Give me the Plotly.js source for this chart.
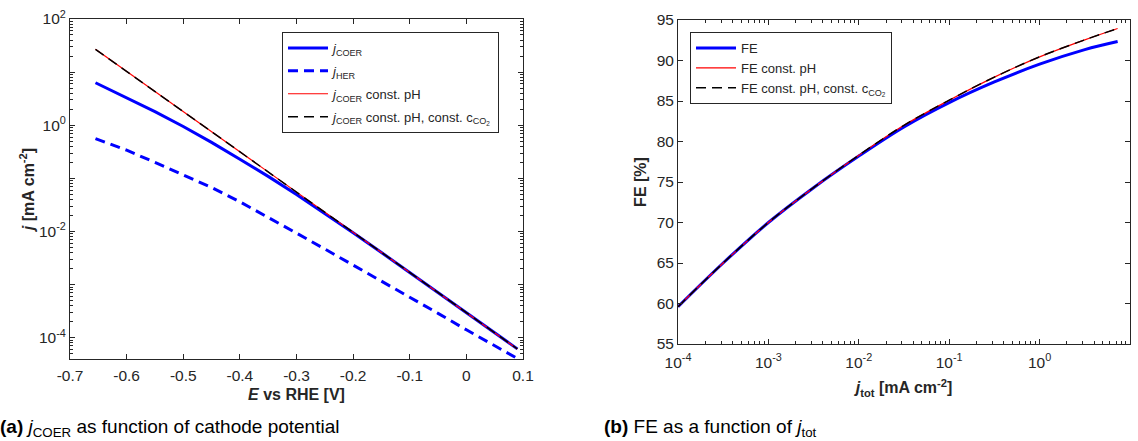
<!DOCTYPE html>
<html>
<head>
<meta charset="utf-8">
<script src="https://cdn.plot.ly/plotly-3.0.1.min.js"></script>
<style>html,body{margin:0;padding:0;background:#fff;}#chart{width:1138px;height:441px;}</style>
</head>
<body>
<div id="chart"></div>
<script>
// ---- Panel (a): current density vs potential ----
const E = [-0.655, -0.6, -0.55, -0.5, -0.45, -0.4, -0.35, -0.3, -0.25, -0.2, -0.15, -0.1, -0.05, 0, 0.05, 0.09];
const jCOER = [6.31, 3.27, 1.80, 0.948, 0.476, 0.229, 0.109, 0.0499, 0.0221, 0.00951, 0.00402, 0.00169, 7.07e-4, 2.96e-4, 1.24e-4, 6.17e-5];
const jHER = [0.562, 0.339, 0.200, 0.117, 0.0676, 0.0363, 0.0186, 0.00933, 0.00468, 0.00234, 0.00115, 5.75e-4, 2.88e-4, 1.41e-4, 7.08e-5, 4.07e-5];
const jCOERconstPH = [26.9, 10.3, 4.31, 1.81, 0.755, 0.316, 0.132, 0.0553, 0.0231, 0.00968, 0.00405, 0.00169, 7.08e-4, 2.96e-4, 1.24e-4, 6.17e-5];
const jCOERconstPHCO2 = [26.9, 10.3, 4.31, 1.81, 0.755, 0.316, 0.132, 0.0553, 0.0231, 0.00968, 0.00405, 0.00169, 7.08e-4, 2.96e-4, 1.24e-4, 6.17e-5];

// ---- Panel (b): Faradaic efficiency vs total current density ----
const jTot = [1e-4, 3.16e-4, 1e-3, 3.16e-3, 0.01, 0.0316, 0.1, 0.316, 1, 3.16, 7.3];
const FE = [59.6, 65.0, 70.0, 74.3, 78.2, 81.8, 84.8, 87.35, 89.55, 91.35, 92.35];
const FEconstPH = [59.6, 65.0, 70.0, 74.3, 78.3, 82.0, 85.1, 87.95, 90.45, 92.55, 93.95];
const FEconstPHCO2 = [59.6, 65.0, 70.0, 74.3, 78.3, 82.0, 85.1, 87.95, 90.45, 92.55, 93.95];

// tick labels
const xTicksA = [-0.7, -0.6, -0.5, -0.4, -0.3, -0.2, -0.1, 0, 0.1];
const xTickTextA = ['-0.7', '-0.6', '-0.5', '-0.4', '-0.3', '-0.2', '-0.1', '0', '0.1'];
const yDecadesA = [-4, -3, -2, -1, 0, 1, 2];
const yLabelsA = ['10<sup>-4</sup>', '', '10<sup>-2</sup>', '', '10<sup>0</sup>', '', '10<sup>2</sup>'];
const xDecadesB = [-4, -3, -2, -1, 0, 1];
const xLabelsB = ['10<sup>-4</sup>', '10<sup>-3</sup>', '10<sup>-2</sup>', '10<sup>-1</sup>', '10<sup>0</sup>', '10<sup>1</sup>'];
const yTicksB = [55, 60, 65, 70, 75, 80, 85, 90, 95];

function minorLog(d0, d1) {
  const out = [];
  for (let d = d0; d < d1; d++) for (let m = 2; m <= 9; m++) out.push(m * Math.pow(10, d));
  return out;
}

const AX = '#262626';
const FONT = 'Liberation Sans, Arial, Helvetica, sans-serif';
const TICK = 15.5, TITLE = 16, LEG = 13, CAP = 19;

const traces = [
  {x: E, y: jCOER, xaxis: 'x', yaxis: 'y', mode: 'lines', name: '<i>j</i><sub>COER</sub>',
   line: {color: '#0000ff', width: 3}, legend: 'legend', legendgroup: 'a1'},
  {x: E, y: jHER, xaxis: 'x', yaxis: 'y', mode: 'lines', name: '<i>j</i><sub>HER</sub>',
   line: {color: '#0000ff', width: 3, dash: '10px,6px'}, legend: 'legend', legendgroup: 'a2'},
  {x: E, y: jCOERconstPH, xaxis: 'x', yaxis: 'y', mode: 'lines', name: '<i>j</i><sub>COER</sub> const. pH',
   line: {color: '#ff0000', width: 1.2}, legend: 'legend', legendgroup: 'a3'},
  {x: E, y: jCOERconstPHCO2, xaxis: 'x', yaxis: 'y', mode: 'lines', name: '<i>j</i><sub>COER</sub> const. pH, const. c<sub>CO<sub>2</sub></sub>',
   line: {color: '#000000', width: 1.5, dash: '10px,6px'}, legend: 'legend', legendgroup: 'a4'},

  {x: jTot, y: FE, xaxis: 'x2', yaxis: 'y2', mode: 'lines', name: 'FE',
   line: {color: '#0000ff', width: 3, shape: 'spline', smoothing: 1}, legend: 'legend2'},
  {x: jTot, y: FEconstPH, xaxis: 'x2', yaxis: 'y2', mode: 'lines', name: 'FE const. pH',
   line: {color: '#ff0000', width: 1.2, shape: 'spline', smoothing: 1}, legend: 'legend2'},
  {x: jTot, y: FEconstPHCO2, xaxis: 'x2', yaxis: 'y2', mode: 'lines', name: 'FE const. pH, const. c<sub>CO<sub>2</sub></sub>',
   line: {color: '#000000', width: 1.5, dash: '10px,6px', shape: 'spline', smoothing: 1}, legend: 'legend2'}
];

const common = {
  showline: true, linecolor: AX, linewidth: 1, mirror: 'allticks',
  ticks: 'inside', ticklen: 5, tickcolor: AX, tickwidth: 1,
  showgrid: false, zeroline: false,
  tickfont: {family: FONT, size: TICK, color: AX}
};

const layout = {
  width: 1138, height: 441,
  margin: {l: 0, r: 0, t: 0, b: 0},
  paper_bgcolor: '#fff', plot_bgcolor: '#fff',
  font: {family: FONT, color: AX},
  showlegend: true,
  xaxis: Object.assign({}, common, {
    domain: [70 / 1138, 523 / 1138], anchor: 'y',
    range: [-0.7, 0.1], tickmode: 'array', tickvals: xTicksA, ticktext: xTickTextA,
    ticklabelstandoff: 2,
    title: {text: '<b><i>E</i> vs RHE [V]</b>', font: {family: FONT, size: TITLE, color: AX}, standoff: 6}
  }),
  yaxis: Object.assign({}, common, {
    domain: [1 - 359 / 441, 1 - 19 / 441], anchor: 'x',
    type: 'log', range: [-4.4, 2],
    tickmode: 'array', tickvals: yDecadesA.map(d => Math.pow(10, d)), ticktext: yLabelsA,
    minor: {tickmode: 'array', tickvals: minorLog(-5, 2), ticks: 'inside', ticklen: 3, tickcolor: AX, showgrid: false},
    title: {text: '<b><i>j</i> [mA cm<sup>-2</sup>]</b>', font: {family: FONT, size: TITLE, color: AX}, standoff: 0}
  }),
  xaxis2: Object.assign({}, common, {
    domain: [678 / 1138, 1130 / 1138], anchor: 'y2',
    type: 'log', range: [-4, 1],
    tickmode: 'array', tickvals: xDecadesB.map(d => Math.pow(10, d)), ticktext: xLabelsB,
    ticklabelstandoff: 4,
    minor: {tickmode: 'array', tickvals: minorLog(-4, 1), ticks: 'inside', ticklen: 3, tickcolor: AX, showgrid: false},
    title: {text: '<b><i>j</i><sub>tot</sub> [mA cm<sup>-2</sup>]</b>', font: {family: FONT, size: TITLE, color: AX}, standoff: 12}
  }),
  yaxis2: Object.assign({}, common, {
    domain: [1 - 344 / 441, 1 - 20 / 441], anchor: 'x2',
    range: [55, 95], tickmode: 'array', tickvals: yTicksB,
    title: {text: '<b>FE [%]</b>', font: {family: FONT, size: TITLE, color: AX}, standoff: 6}
  }),
  legend: {
    x: 282 / 1138, y: 1 - 32 / 441, xanchor: 'left', yanchor: 'top',
    bgcolor: '#fff', bordercolor: AX, borderwidth: 1, itemwidth: 40,
    font: {family: FONT, size: LEG, color: AX}, tracegroupgap: 3
  },
  legend2: {
    x: 690 / 1138, y: 1 - 32 / 441, xanchor: 'left', yanchor: 'top',
    bgcolor: '#fff', bordercolor: AX, borderwidth: 1, itemwidth: 40,
    font: {family: FONT, size: LEG, color: AX}, tracegroupgap: 0
  },
  annotations: [
    {xref: 'paper', yref: 'paper', x: -2 / 1138, y: 1 - 428 / 441, xanchor: 'left', yanchor: 'middle',
     text: '<b>(a)</b> <i>j</i><sub>COER</sub> as function of cathode potential', showarrow: false,
     font: {family: FONT, size: CAP, color: '#000'}},
    {xref: 'paper', yref: 'paper', x: 602 / 1138, y: 1 - 428 / 441, xanchor: 'left', yanchor: 'middle',
     text: '<b>(b)</b> FE as a function of <i>j</i><sub>tot</sub>', showarrow: false,
     font: {family: FONT, size: CAP, color: '#000'}}
  ]
};

Plotly.newPlot('chart', traces, layout, {displayModeBar: false, staticPlot: true});
</script>
</body>
</html>
